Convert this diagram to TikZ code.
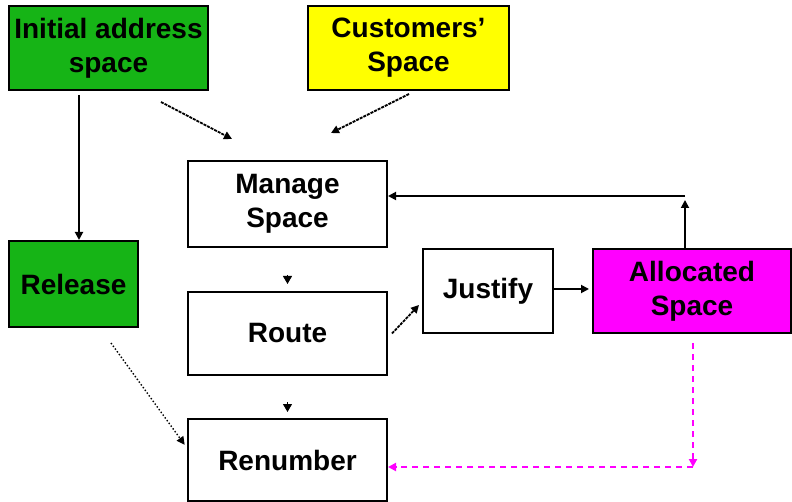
\documentclass[tikz,border=0pt]{standalone}
\usepackage{fontspec}
\setmainfont{Liberation Sans}
\usetikzlibrary{arrows.meta}
\definecolor{boxgreen}{RGB}{22,180,22}
\definecolor{boxyellow}{RGB}{255,255,0}
\definecolor{boxmag}{RGB}{255,0,255}
\begin{document}
\begin{tikzpicture}[x=1pt,y=-1pt,
  box/.style={draw=black,line width=2pt,inner sep=0pt,align=center,
    font=\bfseries\fontsize{28}{34}\selectfont},
  tipa/.style={-{Triangle[length=8pt,width=8pt]}},
  conn/.style={tipa,line width=1.8pt},
  magconn/.style={tipa,line width=2.2pt,draw=boxmag,dash pattern=on 6pt off 5pt},
]
\useasboundingbox (0,0) rectangle (792,502);
\fill[white] (0,0) rectangle (792,502);

\node[box,fill=boxgreen,minimum width=199pt,minimum height=84pt] (init) at (108.5,48) {Initial address\\space};
\node[box,fill=boxyellow,minimum width=201pt,minimum height=84pt] (cust) at (408.5,48) {Customers’\\Space};
\node[box,fill=white,minimum width=199pt,minimum height=86pt] (manage) at (287.5,204) {Manage\\Space};
\node[box,fill=boxgreen,minimum width=129pt,minimum height=86pt] (release) at (73.5,284) {Release};
\node[box,fill=white,minimum width=199pt,minimum height=83pt] (route) at (287.5,333.5) {Route};
\node[box,fill=white,minimum width=130pt,minimum height=84pt] (justify) at (488,291) {Justify};
\node[box,fill=boxmag,minimum width=198pt,minimum height=84pt] (alloc) at (692,291) {Allocated\\Space};
\node[box,fill=white,minimum width=199pt,minimum height=82pt] (renum) at (287.5,460) {Renumber};

% initial -> release
\draw[conn,shorten <=4pt] ([xshift=5.5pt]release.north |- init.south) -- ([xshift=5.5pt]release.north);

% initial -> manage, customers -> manage
\coordinate (a1) at (161,102);
\coordinate (a2) at (232,139);
\draw[conn,dash pattern=on 3pt off 1pt] (a1) -- (a2);
\coordinate (b1) at (409,94);
\coordinate (b2) at (331,133);
\draw[conn,dash pattern=on 3pt off 1pt] (b1) -- (b2);

% feedback allocated -> manage
\coordinate (fb) at (685,196);
\draw[conn,shorten >=4pt] (alloc.north -| fb) -- (fb);
\draw[conn] (fb) -- (manage.east |- fb);

% short tips between stacked boxes
\draw[-{Triangle[length=8pt,width=9pt]},line width=1pt] ([yshift=16pt]route.north) -- ([yshift=7pt]route.north);
\draw[-{Triangle[length=8pt,width=9pt]},line width=1pt] ([yshift=16pt]renum.north) -- ([yshift=6pt]renum.north);

% route -> justify
\draw[conn,dash pattern=on 3pt off 1pt] ([xshift=4pt]route.east) -- ([xshift=-3pt,yshift=-14pt]justify.west);

% justify -> allocated
\draw[conn,shorten >=3pt] ([yshift=2pt]justify.east) -- ([yshift=2pt]alloc.west);

% release -> renumber (dotted)
\coordinate (d1) at (111,343);
\draw[conn,line width=1.4pt,dotted,shorten >=4pt] (d1) -- ([yshift=12pt]renum.west);

% allocated -> renumber (magenta dashed)
\coordinate (mc) at (693,467);
\draw[magconn,shorten <=9pt] (alloc.south -| mc) -- (mc);
\draw[magconn] (mc) -- (renum.east |- mc);
\end{tikzpicture}
\end{document}
